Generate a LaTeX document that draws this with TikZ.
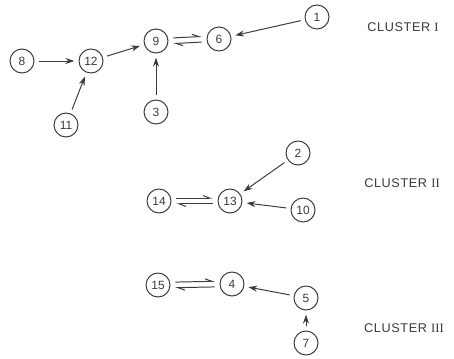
\documentclass[tikz,border=0pt]{standalone}
\usepackage{fontspec}
\setmainfont{Liberation Sans}
\newfontfamily\clusterfont[LetterSpace=5]{Liberation Sans}
\newfontfamily\romfont{Liberation Serif}
\usetikzlibrary{positioning, arrows.meta}
\definecolor{ink}{HTML}{3A3A3A}
\tikzstyle{num} = [circle, draw=ink, text=ink, line width=0.7pt, minimum size=0.6cm, inner sep=0pt, font=\fontsize{8.5}{9}\selectfont]
\tikzstyle{clabel} = [text=ink, font=\clusterfont\fontsize{9}{10}\selectfont]
\tikzstyle{link} = [draw=ink, line width=0.7pt, -{Stealth[length=2.2mm, width=1.5mm]}, shorten <=3pt, shorten >=3pt]
\tikzstyle{harp} = [draw=ink, line width=0.7pt, -{Straight Barb[left, length=1.7mm, width=1.3mm]}, shorten <=3.5pt, shorten >=3.5pt]

\begin{document}
\begin{tikzpicture}[on grid]
  \useasboundingbox (0,0) rectangle (11.35,-8.95);
  % cluster I
  \node (n9) [num] at (3.9,-1.025) {9};
  \node (n6) [num, right=1.575cm of n9, yshift=0.05cm] {6};
  \node (n1) [num, right=2.45cm of n6, yshift=0.55cm] {1};
  \node (n12) [num, left=1.625cm of n9, yshift=-0.5cm] {12};
  \node (n8) [num, left=1.725cm of n12] {8};
  \node (n11) [num, below=1.6cm of n12, xshift=-0.625cm] {11};
  \node (n3) [num, below=1.775cm of n9] {3};
  \draw [link] (n8) -- (n12);
  \draw [link] (n11) -- (n12);
  \draw [link] (n12) -- (n9);
  \draw [link] (n3) -- (n9);
  \draw [link] (n1) -- (n6);
  \draw [harp] ([yshift=2pt]n9.east) -- ([yshift=2pt]n6.west);
  \draw [harp] ([yshift=-2pt]n6.west) -- ([yshift=-2pt]n9.east);
  % cluster II
  \node (n14) [num, below=2.225cm of n3, xshift=0.075cm] {14};
  \node (n13) [num, right=1.775cm of n14] {13};
  \node (n2) [num, right=1.7cm of n13, yshift=1.2cm] {2};
  \node (n10) [num, right=1.825cm of n13, yshift=-0.225cm] {10};
  \draw [link] (n2) -- (n13);
  \draw [link] (n10) -- (n13);
  \draw [harp] ([yshift=2pt]n14.east) -- ([yshift=2pt]n13.west);
  \draw [harp] ([yshift=-2pt]n13.west) -- ([yshift=-2pt]n14.east);
  % cluster III
  \node (n15) [num, below=2.1cm of n14, xshift=-0.025cm] {15};
  \node (n4) [num, right=1.85cm of n15, yshift=0.025cm] {4};
  \node (n5) [num, right=1.85cm of n4, yshift=-0.35cm] {5};
  \node (n7) [num, below=1.125cm of n5] {7};
  \draw [link] (n5) -- (n4);
  \draw [link] (n7) -- (n5);
  \draw [harp] ([yshift=2pt]n15.east) -- ([yshift=2pt]n4.west);
  \draw [harp] ([yshift=-2pt]n4.west) -- ([yshift=-2pt]n15.east);
  % labels
  \node (c1) [clabel, right=2.15cm of n1, yshift=-0.25cm] {CLUSTER \romfont I};
  \node (c2) [clabel, right=2.6cm of n2, yshift=-0.75cm] {CLUSTER \romfont II};
  \node (c3) [clabel, right=2.45cm of n5, yshift=-0.75cm] {CLUSTER \romfont III};
\end{tikzpicture}
\end{document}
